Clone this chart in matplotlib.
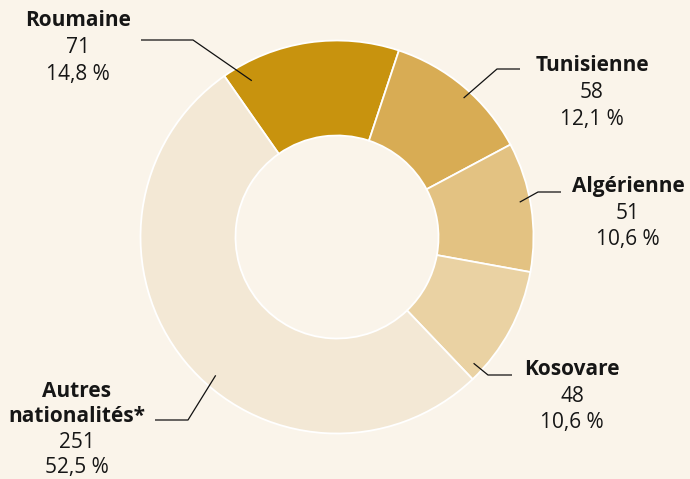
import numpy as np
import matplotlib.pyplot as plt

plt.rcParams['font.family'] = ['Open Sans', 'DejaVu Sans']

# Data
categories = ['Roumaine', 'Tunisienne', 'Algérienne', 'Kosovare', 'Autres\nnationalités*']
counts = [71, 58, 51, 48, 251]
shares = ['14,8 %', '12,1 %', '10,6 %', '10,6 %', '52,5 %']
colors = ['#C8930E', '#D8AC54', '#E3C282', '#EAD2A3', '#F3E8D5']
bg = '#FAF4EA'
ink = '#161616'

W, H = 690, 479
fig = plt.figure(figsize=(W / 100, H / 100), dpi=100, facecolor=bg)
ax = fig.add_axes([0, 0, 1, 1])
ax.set_facecolor(bg)

cx, cy = 337, H - 237
r_out, r_in = 196.5, 101.5
wedges, _ = ax.pie(counts, colors=colors, startangle=125, counterclock=False,
                   center=(cx, cy), radius=r_out, frame=True,
                   wedgeprops=dict(width=r_out - r_in, edgecolor='white', linewidth=1.3))
ax.set_xlim(0, W)
ax.set_ylim(0, H)
ax.axis('off')

# Label layout in pixel coordinates (y measured from top):
# text centre x, baselines of each line, leader end, leader elbow,
# anchor position as fraction along the wedge and radius
layout = [
    dict(x=78, base=[26, 53, 80], end=(141, 40), elbow=(193, 40), frac=0.12, r=178),
    dict(x=592, base=[71, 98, 125], end=(520, 69), elbow=(497, 69), frac=0.55, r=188),
    dict(x=628, base=[192, 219, 245], end=(561, 192), elbow=(538, 192), frac=0.45, r=186),
    dict(x=572, base=[375, 402, 428], end=(512, 375), elbow=(488, 375), frac=0.9, r=186),
    dict(x=77, base=[397, 422, 448, 473], end=(155, 420), elbow=(188, 420), frac=0.45, r=184),
]

fs = 15
for w, cat, n, pct, lay in zip(wedges, categories, counts, shares, layout):
    name_lines = cat.split('\n')
    lines = [(t, 'bold') for t in name_lines] + [(str(n), 'normal'), (pct, 'normal')]
    for (txt, weight), b in zip(lines, lay['base']):
        ax.text(lay['x'], H - b, txt, ha='center', va='baseline', fontsize=fs,
                fontweight=weight, color=ink)
    # leader line from inside the wedge to the label
    ang = np.deg2rad(w.theta2 - lay['frac'] * (w.theta2 - w.theta1))
    px, py = cx + lay['r'] * np.cos(ang), cy + lay['r'] * np.sin(ang)
    xs = [px, lay['elbow'][0], lay['end'][0]]
    ys = [py, H - lay['elbow'][1], H - lay['end'][1]]
    ax.plot(xs, ys, color='#111111', lw=0.9, solid_capstyle='butt')

fig.savefig('out.png', dpi=100, facecolor=bg)
